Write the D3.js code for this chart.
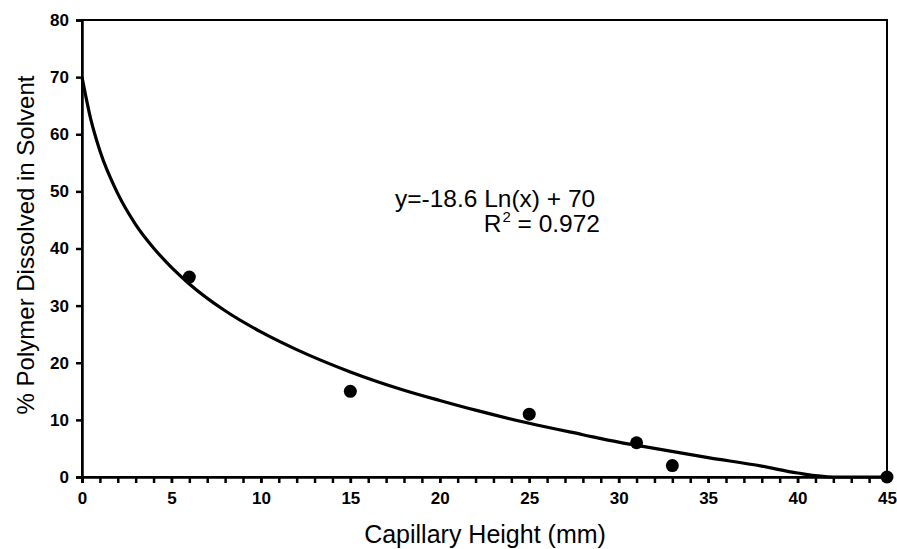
<!DOCTYPE html>
<html>
<head>
<meta charset="UTF-8">
<script src="https://d3js.org/d3.v7.min.js"></script>
<style>
  body { margin: 0; background: #fff; }
  svg { display: block; font-family: "Liberation Sans", Arial, sans-serif; }
</style>
</head>
<body>
<svg id="chart" width="897" height="549"></svg>
<script>
// measured points
var heights = [6, 15, 25, 31, 33, 45];
var dissolved = [35, 15, 11, 6, 2, 0];

// trendline
var curveX = [0, 0.5, 1, 2, 3, 4, 5, 6, 8, 10, 12, 15, 18, 20, 22, 25, 28, 30, 32, 35, 38, 40, 42, 45];
var curveY = [70, 62.5, 57.1, 49.6, 44.2, 40.1, 36.7, 33.8, 29.1, 25.4, 22.3, 18.4, 15.2, 13.4, 11.7, 9.4, 7.4, 6.1, 5.0, 3.4, 1.9, 0.7, 0, 0];

var xTicks = [0, 5, 10, 15, 20, 25, 30, 35, 40, 45];
var yTicks = [0, 10, 20, 30, 40, 50, 60, 70, 80];

var svg = d3.select("#chart");
var margin = {top: 20, right: 10, bottom: 72, left: 82};
var width = 897 - margin.left - margin.right;
var height = 549 - margin.top - margin.bottom;

var x = d3.scaleLinear().domain([0, 45]).range([0, width]);
var y = d3.scaleLinear().domain([0, 80]).range([height, 0]);

var g = svg.append("g").attr("transform", "translate(" + margin.left + "," + margin.top + ")");

// frame
g.append("rect")
  .attr("width", width).attr("height", height)
  .attr("fill", "none").attr("stroke", "#000").attr("stroke-width", 2);

function styleAxis(a) {
  a.attr("font-family", "Liberation Sans, Arial, sans-serif");
  a.select(".domain").attr("stroke-width", 2.5);
  a.selectAll("line").attr("stroke-width", 2.5);
  a.selectAll("text").attr("font-size", 17).attr("font-weight", "bold").attr("fill", "#000");
}

// minor x ticks
g.append("g")
  .attr("transform", "translate(0," + height + ")")
  .call(d3.axisBottom(x).tickValues(d3.range(0, 46, 1)).tickSize(6).tickFormat(""))
  .call(function(a) {
    a.select(".domain").remove();
    a.selectAll("line").attr("stroke-width", 2.5);
  });

// major x ticks + labels
g.append("g")
  .attr("transform", "translate(0," + height + ")")
  .call(d3.axisBottom(x).tickValues(xTicks).tickSize(6).tickPadding(9))
  .call(styleAxis);

g.append("g")
  .call(d3.axisLeft(y).tickValues(yTicks).tickSize(6).tickPadding(7))
  .call(styleAxis);

// trend curve
var line = d3.line()
  .x(function(d, i) { return x(curveX[i]); })
  .y(function(d) { return y(d); })
  .curve(d3.curveMonotoneX);

g.append("path")
  .datum(curveY)
  .attr("d", line)
  .attr("fill", "none")
  .attr("stroke", "#000")
  .attr("stroke-width", 3.2);

// points
g.selectAll("circle")
  .data(dissolved)
  .join("circle")
  .attr("cx", function(d, i) { return x(heights[i]); })
  .attr("cy", function(d) { return y(d); })
  .attr("r", 6.5)
  .attr("fill", "#000");

// equation
g.append("text")
  .attr("x", 313).attr("y", 187)
  .attr("font-size", 24.5)
  .text("y=-18.6 Ln(x) + 70");

var r2 = g.append("text")
  .attr("x", 518).attr("y", 212)
  .attr("text-anchor", "end")
  .attr("font-size", 24.5);
r2.append("tspan").text("R");
r2.append("tspan").attr("font-size", 15).attr("dx", 1).attr("dy", -10).text("2");
r2.append("tspan").attr("dy", 10).text(" = 0.972");

// axis titles
svg.append("text")
  .attr("x", 485).attr("y", 543)
  .attr("text-anchor", "middle")
  .attr("font-size", 25)
  .text("Capillary Height (mm)");

svg.append("text")
  .attr("transform", "translate(34,245) rotate(-90)")
  .attr("text-anchor", "middle")
  .attr("font-size", 24)
  .text("% Polymer Dissolved in Solvent");
</script>
</body>
</html>
